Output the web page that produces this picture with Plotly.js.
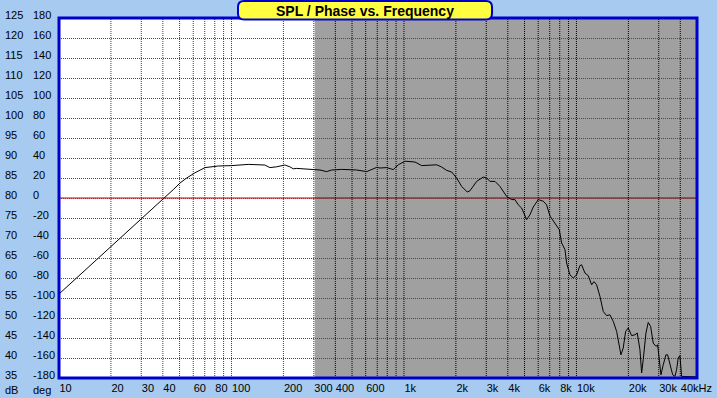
<!DOCTYPE html>
<html>
<head>
<meta charset="utf-8">
<script src="https://cdn.plot.ly/plotly-3.0.1.min.js"></script>
<style>html,body{margin:0;padding:0;background:#A6CAF0;}#chart{width:717px;height:398px;}</style>
</head>
<body>
<div id="chart"></div>
<script>
// ---- data ----
const freq = [10, 15, 20, 25, 30, 35, 40.2, 46, 50.3, 55, 61.4, 70.2, 83.8, 100.3, 125, 156, 167, 183, 204, 218, 228, 239, 267, 298, 326, 356, 381, 435, 532, 608, 650, 695, 726, 794, 867, 927, 1014, 1158, 1267, 1415, 1548, 1654, 1768, 1890, 2021, 2160, 2328, 2413, 2639, 2883, 3016, 3151, 3370, 3602, 3939, 4210, 4400, 4599, 4812, 5144, 5376, 5619, 6005, 6419, 6716, 7021, 7505, 7949, 8207, 8578, 8774, 9170, 9581, 10027, 10478, 10717, 11200, 11706, 12250, 12635, 13095, 13686, 14300, 14966, 15640, 16345, 17100, 17703, 18113, 18677, 19284, 19966, 20424, 20893, 21834, 22517, 23339, 23878, 24392, 25290, 26080, 26920, 27870, 28900, 29560, 30080, 30900, 31860, 33030, 33790, 34840, 36130, 37240, 38090, 38910, 39810, 40730, 50000];
const spl = [56, 63, 68, 71.8, 74.9, 77.6, 79.8, 82.1, 83.75, 85, 86.3, 87.6, 88.0, 88.1, 88.4, 88.25, 87.6, 87.8, 88.25, 87.8, 87.3, 87.4, 87.25, 87.0, 87.0, 86.6, 87.0, 87.15, 87.0, 86.6, 87.1, 87.65, 87.5, 87.6, 87.1, 88.3, 89.2, 89.0, 88.1, 88.3, 88.3, 87.75, 86.9, 86.5, 85.0, 82.9, 81.5, 81.8, 84.15, 85.25, 85.0, 84.15, 84.15, 82.9, 80.4, 79.6, 79.6, 78.3, 77.5, 74.6, 75.8, 77.75, 79.6, 79.2, 78.3, 75.5, 73.75, 72.1, 68.75, 67.1, 63.75, 60.8, 60.0, 60.8, 63.1, 63.3, 61.25, 60.6, 58.3, 59.1, 58.3, 55.4, 51.65, 50.6, 50.8, 49.15, 46.65, 43.3, 40.8, 42.5, 46.65, 47.5, 46.65, 45.6, 45.8, 46.25, 42.1, 36.25, 39.6, 46.25, 48.9, 47.9, 43.75, 42.9, 43.3, 39.6, 35.8, 38.3, 40.8, 40.8, 38.3, 35.8, 35.4, 37.1, 40.0, 40.6, 35.4, 35.3];

const gridFreqs = [10,20,30,40,50,60,70,80,90,100,200,300,400,500,600,700,800,900,1000,2000,3000,4000,5000,6000,7000,8000,9000,10000,20000,30000,40000];
const gridText  = ['10','20','30','40','','60','','80','','100','200','300','400','','600','','','','1k','2k','3k','4k','','6k','','8k','','10k','20k','30k','40kHz'];
const dbTicks  = [125,120,115,110,105,100,95,90,85,80,75,70,65,60,55,50,45,40,35];
const degTicks = [180,160,140,120,100,80,60,40,20,0,-20,-40,-60,-80,-100,-120,-140,-160,-180];
const hGrid = [40,45,50,55,60,65,70,75,80,85,90,95,100,105,110,115,120];
const shadeStart = 300;   // Hz, start of grey region
const zeroLevel = 80;     // dB line that equals 0 deg
const titleText = 'SPL / Phase vs. Frequency';

// ---- geometry helpers (pixel -> paper) ----
const W = 717, H = 398, L = 59, R = 20, T = 18, B = 20;
const PW = W - L - R, PH = H - T - B;
const px = x => (x - L) / PW;
const py = y => (H - B - y) / PH;

function roundRect(x0, y0, x1, y1, r) {
  const p = [];
  p.push('M', px(x0 + r), py(y0));
  p.push('L', px(x1 - r), py(y0));
  p.push('Q', px(x1), py(y0), px(x1), py(y0 + r));
  p.push('L', px(x1), py(y1 - r));
  p.push('Q', px(x1), py(y1), px(x1 - r), py(y1));
  p.push('L', px(x0 + r), py(y1));
  p.push('Q', px(x0), py(y1), px(x0), py(y1 - r));
  p.push('L', px(x0), py(y0 + r));
  p.push('Q', px(x0), py(y0), px(x0 + r), py(y0));
  p.push('Z');
  return p.join(' ');
}

const font = {family: 'Liberation Sans, Arial, sans-serif', size: 11, color: '#000'};

const shapes = [];
// green dotted vertical gridlines in the white part
gridFreqs.filter(f => f > 10 && f <= shadeStart).forEach(f => {
  shapes.push({type: 'line', xref: 'x', yref: 'paper', x0: f, x1: f, y0: 0, y1: 1,
    line: {color: '#007000', width: 1, dash: '1px,1px'}, layer: 'between'});
});
shapes.push({type: 'line', xref: 'paper', yref: 'y', x0: 0, x1: 1, y0: zeroLevel, y1: zeroLevel,
  line: {color: '#C80000', width: 1}, layer: 'between'});
shapes.push({type: 'rect', xref: 'x', yref: 'paper', x0: shadeStart * 1.012, x1: 50000, y0: 0, y1: 1,
  fillcolor: 'rgba(0,0,0,0.373)', line: {width: 0}, layer: 'between'});
// black dotted vertical gridlines in the grey part
gridFreqs.filter(f => f > shadeStart).forEach(f => {
  shapes.push({type: 'line', xref: 'x', yref: 'paper', x0: f, x1: f, y0: 0, y1: 1,
    line: {color: '#000', width: 1, dash: '1px,1px'}, layer: 'between'});
});
shapes.push({type: 'rect', xref: 'paper', yref: 'paper', x0: 0, x1: 1, y0: 0, y1: 1,
  line: {color: '#0000CC', width: 3}, layer: 'above'});
shapes.push({type: 'path', xref: 'paper', yref: 'paper', path: roundRect(238, 1, 492, 19.5, 6),
  fillcolor: '#FFFF40', line: {color: '#0000CC', width: 2}, layer: 'above'});

const annotations = [];
dbTicks.forEach(v => annotations.push({xref: 'paper', yref: 'y', x: px(3), y: v, yshift: 3,
  xanchor: 'left', yanchor: 'middle', text: String(v), showarrow: false, font: font}));
degTicks.forEach((v, i) => annotations.push({xref: 'paper', yref: 'y', x: px(31), y: dbTicks[i], yshift: 3,
  xanchor: 'left', yanchor: 'middle', text: String(v), showarrow: false, font: font}));
annotations.push({xref: 'paper', yref: 'paper', x: px(3), y: py(389.5), xanchor: 'left', yanchor: 'middle',
  text: 'dB', showarrow: false, font: font});
annotations.push({xref: 'paper', yref: 'paper', x: px(31), y: py(389.5), xanchor: 'left', yanchor: 'middle',
  text: 'deg', showarrow: false, font: font});
annotations.push({xref: 'paper', yref: 'paper', x: px(365), y: py(10.5), xanchor: 'center', yanchor: 'middle',
  text: '<b>' + titleText + '</b>', showarrow: false,
  font: {family: 'Liberation Sans, Arial, sans-serif', size: 14, color: '#000'}});

const trace = {x: freq, y: spl, type: 'scatter', mode: 'lines',
  line: {color: '#000', width: 1}, hoverinfo: 'skip', cliponaxis: true};

const layout = {
  width: W, height: H,
  margin: {l: L, r: R, t: T, b: B, pad: 0},
  paper_bgcolor: '#A6CAF0', plot_bgcolor: '#FFFFFF',
  showlegend: false,
  xaxis: {type: 'log', range: [1, Math.log10(50000)], tickmode: 'array', tickvals: gridFreqs, ticktext: gridText,
    showgrid: false, zeroline: false, tickangle: 0,
    ticks: 'outside', ticklen: 3, tickcolor: 'rgba(0,0,0,0)',
    ticklabelposition: 'outside right', tickfont: font, showline: false, fixedrange: true},
  yaxis: {range: [35, 125], tickmode: 'array', tickvals: hGrid, showticklabels: false,
    showgrid: true, gridcolor: '#008000', gridwidth: 1, griddash: '1px,1px', zeroline: false,
    ticks: '', showline: false, fixedrange: true},
  shapes: shapes,
  annotations: annotations
};

Plotly.newPlot('chart', [trace], layout, {staticPlot: true, displayModeBar: false});
</script>
</body>
</html>
